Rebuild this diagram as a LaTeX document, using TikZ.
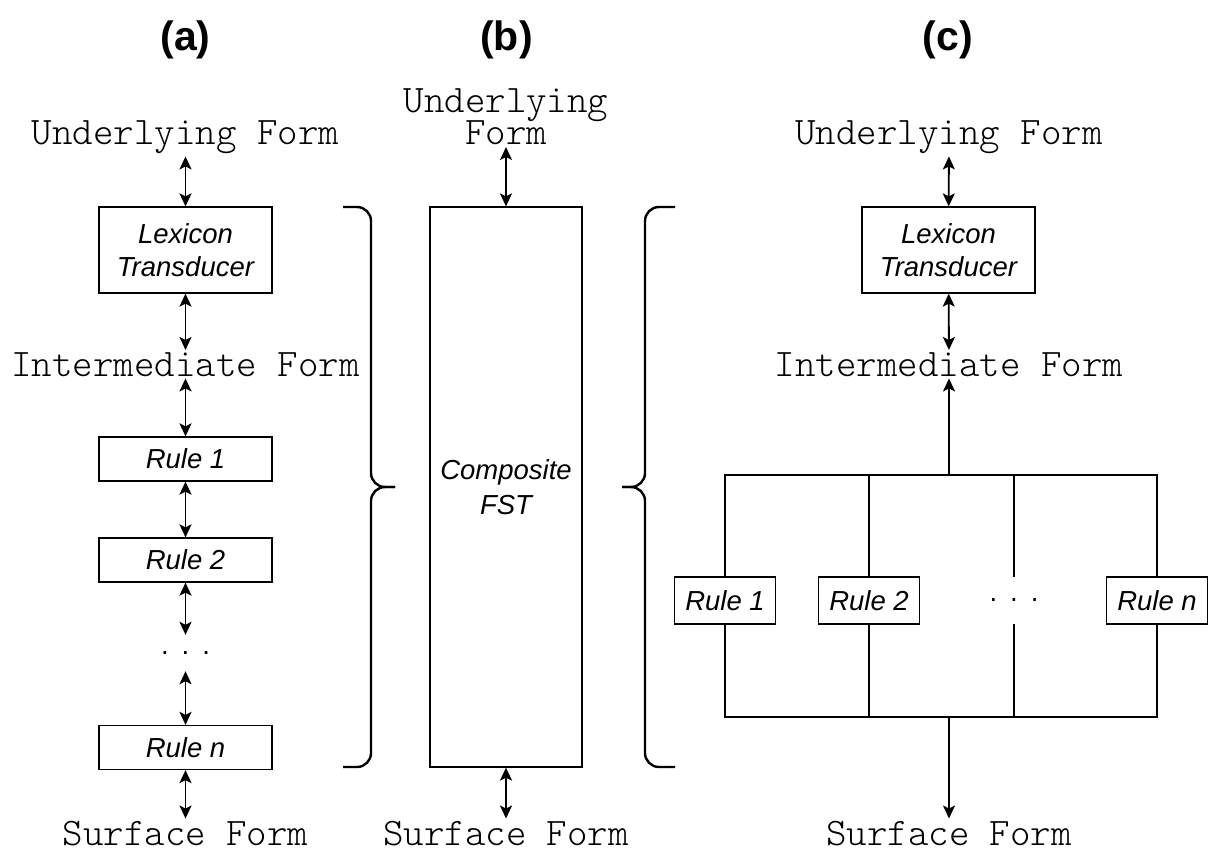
\documentclass[tikz,border=0pt]{standalone}
\usepackage{fontspec}
\setsansfont{Liberation Sans}
\setmonofont{lmmonolt10-regular}[Extension=.otf]
\usepackage{tikz}
\usetikzlibrary{arrows.meta}

\newcommand{\rowdots}{.\hspace{13pt}.\hspace{13pt}.}

\begin{document}
\begin{tikzpicture}[x=1pt, y=-1pt,
  >={Stealth[length=13pt,width=12pt,inset=3pt]},
  heading/.style={font=\fontsize{41}{41}\selectfont\sffamily\bfseries},
  form/.style={font=\fontsize{39}{30}\selectfont\ttfamily, inner sep=2pt},
  fst/.style={draw, line width=1.2pt, align=center, inner sep=0pt,
    font=\fontsize{27.5}{33}\selectfont\sffamily\itshape},
  rulebox/.style={fst, minimum width=173pt, minimum height=44pt},
  rulesmall/.style={fst, minimum width=101pt, minimum height=47pt},
  gap/.style={inner sep=0pt, font=\fontsize{27.5}{33}\selectfont\sffamily},
  link/.style={<->, line width=1.8pt},
  flow/.style={->, line width=1.8pt},
  wire/.style={line width=1.5pt},
  curly/.style={line width=2.4pt, rounded corners=14pt}]
\useasboundingbox (0,0) rectangle (1209,853);

\node[heading] (capA) at (185.5,40) {(a)};
\node[heading] (capB) at (506.5,40) {(b)};
\node[heading] (capC) at (948,40) {(c)};

% (a) lexicon followed by the rules one after another
\node[form, anchor=base] (ufA) at (185.5,145) {Underlying Form};
\node[fst, minimum width=173pt, minimum height=86pt] (lexA) at (185.5,250) {Lexicon\\Transducer};
\node[form, anchor=base] (imA) at (185.5,376) {Intermediate Form};
\node[rulebox] (r1A) at (185.5,459) {Rule 1};
\node[rulebox] (r2A) at (185.5,560) {Rule 2};
\node[gap, minimum height=36pt] (dotsA) at (185.5,653) {\rowdots};
\node[rulebox] (rnA) at (185.5,747.5) {Rule n};
\node[form, anchor=base] (sfA) at (185.5,845) {Surface Form};
\foreach \a/\b in {ufA/lexA, lexA/imA, imA/r1A, r1A/r2A, r2A/dotsA, dotsA/rnA, rnA/sfA}
  \draw[link] (\a) -- (\b);

% braces
\draw[curly] (343,207) -| (371,487) -- (395,487);
\draw[curly] (343,767) -| (371,487) -- (395,487);
\draw[curly] (675,207) -| (645,487) -- (622,487);
\draw[curly] (675,767) -| (645,487) -- (622,487);

% (b) one composed machine
\node[form, align=center, anchor=south] (ufB) at (506,147) {Underlying\\[-2pt]Form};
\node[fst, minimum width=152pt, minimum height=560pt,
  font=\fontsize{27.5}{35}\selectfont\sffamily\itshape] (compB) at (506,487) {Composite\\FST};
\node[form, anchor=base] (sfB) at (506,845) {Surface Form};
\draw[link] (ufB) -- (compB);
\draw[link] (compB) -- (sfB);

% (c) rules side by side
\node[form, anchor=base] (ufC) at (949,145) {Underlying Form};
\node[fst, minimum width=173pt, minimum height=86pt] (lexC) at (948.5,250) {Lexicon\\Transducer};
\node[form, anchor=base] (imC) at (949,376) {Intermediate Form};
\node[rulesmall] (r1C) at (725,600.5) {Rule 1};
\node[rulesmall] (r2C) at (869,600.5) {Rule 2};
\node[gap, minimum width=101pt, minimum height=47pt] (dotsC) at (1014,600.5) {\rowdots};
\node[rulesmall] (rnC) at (1157,600.5) {Rule n};
\node[form, anchor=base] (sfC) at (949,845) {Surface Form};
\coordinate (topC) at (949,475);
\coordinate (botC) at (949,717);

\draw[link] (ufC) -- (lexC);
\draw[link] (lexC) -- (imC);
\draw[flow] (topC) -- (imC);
\draw[flow] (botC) -- (sfC);
\draw[wire] (r1C) |- (topC) -| (rnC);
\draw[wire] (r1C) |- (botC) -| (rnC);
\foreach \n in {r2C, dotsC}
  \draw[wire] (\n |- topC) -- (\n) -- (\n |- botC);
\end{tikzpicture}
\end{document}
